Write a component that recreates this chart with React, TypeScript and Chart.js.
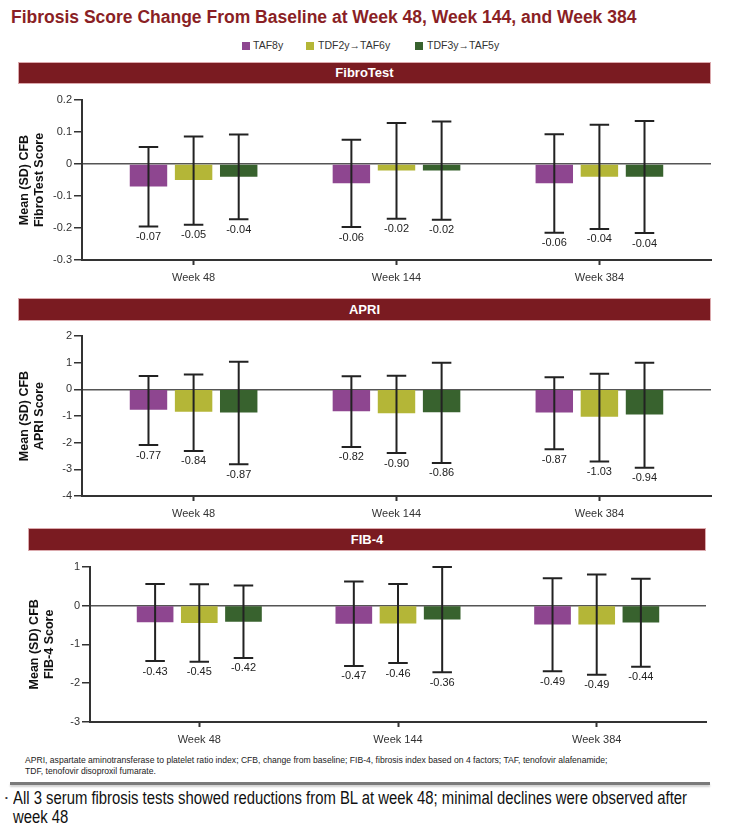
import React, { useEffect, useLayoutEffect, useRef } from 'react';
import { Chart, registerables } from 'chart.js';

Chart.register(...registerables);

const FONT = '"Liberation Sans", Arial, Helvetica, sans-serif';

const weeks = ['Week 48', 'Week 144', 'Week 384'];
const seriesNames = ['TAF8y', 'TDF2y→TAF6y', 'TDF3y→TAF5y'];
const seriesColors = ['#8E4690', '#B4B637', '#38622E'];

// FibroTest: rows = series (TAF8y, TDF2y→TAF6y, TDF3y→TAF5y), columns = weeks
const fibroMeans = [[-0.07, -0.06, -0.06], [-0.05, -0.02, -0.04], [-0.04, -0.02, -0.04]];
const fibroUpper = [[0.053, 0.076, 0.093], [0.086, 0.128, 0.123], [0.092, 0.133, 0.134]];
const fibroLower = [[-0.195, -0.197, -0.215], [-0.19, -0.171, -0.203], [-0.173, -0.174, -0.216]];
const fibroTicks = [0.2, 0.1, 0, -0.1, -0.2, -0.3];

// APRI
const apriMeans = [[-0.77, -0.82, -0.87], [-0.84, -0.9, -1.03], [-0.87, -0.86, -0.94]];
const apriUpper = [[0.5, 0.49, 0.45], [0.56, 0.51, 0.585], [1.03, 1.0, 1.0]];
const apriLower = [[-2.09, -2.16, -2.25], [-2.31, -2.39, -2.71], [-2.81, -2.76, -2.94]];
const apriTicks = [2, 1, 0, -1, -2, -3, -4];

// FIB-4
const fib4Means = [[-0.43, -0.47, -0.49], [-0.45, -0.46, -0.49], [-0.42, -0.36, -0.44]];
const fib4Upper = [[0.556, 0.618, 0.7], [0.55, 0.556, 0.8], [0.515, 0.994, 0.69]];
const fib4Lower = [[-1.43, -1.555, -1.69], [-1.45, -1.48, -1.78], [-1.35, -1.72, -1.58]];
const fib4Ticks = [1, 0, -1, -2, -3];

type PanelProps = {
  top: number;
  height: number;
  plotLeft: number;
  plotRight: number;
  plotTop: number;
  plotBottom: number;
  means: number[][];
  upper: number[][];
  lower: number[][];
  yTicks: number[];
  yTitle: string[];
  titleBaselines: number[];
};

function Panel(p: PanelProps) {
  const ref = useRef<HTMLCanvasElement>(null);
  useEffect(() => {
    if (!ref.current) return;
    const errPlugin = {
      id: 'errBars',
      afterDatasetsDraw(chart: any) {
        const ctx = chart.ctx;
        const ys = chart.scales.y;
        ctx.save();
        p.means.forEach((row, s) => {
          const meta = chart.getDatasetMeta(s);
          meta.data.forEach((el: any, i: number) => {
            const x = el.x;
            const yh = ys.getPixelForValue(p.upper[s][i]);
            const yl = ys.getPixelForValue(p.lower[s][i]);
            ctx.strokeStyle = '#222';
            ctx.lineWidth = 2;
            ctx.beginPath();
            ctx.moveTo(x, yh);
            ctx.lineTo(x, yl);
            ctx.moveTo(x - 9.75, yh);
            ctx.lineTo(x + 9.75, yh);
            ctx.moveTo(x - 9.75, yl);
            ctx.lineTo(x + 9.75, yl);
            ctx.stroke();
            ctx.fillStyle = '#222';
            ctx.font = `11px ${FONT}`;
            ctx.textAlign = 'center';
            ctx.textBaseline = 'top';
            ctx.fillText(row[i].toFixed(2), x, yl + 5);
          });
        });
        ctx.restore();
        // y-axis title
        const ca = chart.chartArea;
        const cy = (ca.top + ca.bottom) / 2;
        ctx.save();
        ctx.translate(0, cy);
        ctx.rotate(-Math.PI / 2);
        ctx.font = `bold 12.5px ${FONT}`;
        ctx.fillStyle = '#111';
        ctx.textAlign = 'center';
        ctx.textBaseline = 'alphabetic';
        p.yTitle.forEach((line, k) => ctx.fillText(line, 0, p.titleBaselines[k]));
        ctx.restore();
      },
    };

    const chart = new Chart(ref.current, {
      type: 'bar',
      data: {
        datasets: seriesNames.map((name, s) => ({
          label: name,
          data: p.means[s].map((v, i) => ({ x: i, y: v })),
          backgroundColor: seriesColors[s],
          borderWidth: 0,
          categoryPercentage: 0.667,
          barPercentage: 0.83,
        })),
      },
      options: {
        animation: false,
        responsive: false,
        devicePixelRatio: 1,
        layout: {
          padding: { left: 0, right: 753 - p.plotRight, top: p.plotTop - p.top, bottom: 0 },
        },
        plugins: { legend: { display: false }, tooltip: { enabled: false } },
        scales: {
          x: {
            type: 'linear',
            offset: false,
            min: -0.55,
            max: 2.55,
            afterBuildTicks: (a: any) => {
              a.ticks = weeks.map((_, i) => ({ value: i }));
            },
            afterFit: (a: any) => {
              a.height = p.top + p.height - p.plotBottom;
            },
            ticks: {
              callback: (v: any) => weeks[Number(v)] ?? '',
              font: { size: 11, family: FONT },
              color: '#333',
              padding: 6,
              maxRotation: 0,
              autoSkip: false,
            },
            grid: { offset: false, drawOnChartArea: false, drawTicks: true, tickLength: 5, tickColor: '#333', tickWidth: 2 },
            border: { display: true, color: '#333', width: 2 },
          },
          y: {
            type: 'linear',
            min: p.yTicks[p.yTicks.length - 1],
            max: p.yTicks[0],
            afterBuildTicks: (a: any) => {
              a.ticks = p.yTicks.map((v) => ({ value: v }));
            },
            afterFit: (a: any) => {
              a.width = p.plotLeft;
            },
            ticks: {
              callback: (v: any) => String(Math.round(Number(v) * 100) / 100),
              font: { size: 11, family: FONT },
              color: '#333',
              padding: 2,
            },
            grid: {
              drawOnChartArea: true,
              drawTicks: true,
              color: (c: any) => (c.tick && c.tick.value === 0 ? '#555' : 'rgba(0,0,0,0)'),
              lineWidth: 1.5,
              tickLength: 8,
              tickColor: '#333',
              tickWidth: 1.5,
            },
            border: { display: true, color: '#333', width: 2 },
          },
        },
      } as any,
      plugins: [errPlugin],
    });
    return () => chart.destroy();
  }, []);
  return (
    <canvas
      ref={ref}
      width={753}
      height={p.height}
      style={{ position: 'absolute', left: 0, top: p.top, width: 753, height: p.height }}
    />
  );
}

function Header({ text, left, top, width, height }: { text: string; left: number; top: number; width: number; height: number }) {
  return (
    <div
      style={{
        position: 'absolute',
        left,
        top,
        width,
        height,
        boxSizing: 'border-box',
        background: '#7A1B21',
        border: '1px solid #dba9ad',
        color: '#fff',
        fontWeight: 'bold',
        fontSize: 13,
        lineHeight: `${height - 2}px`,
        textAlign: 'center',
      }}
    >
      {text}
    </div>
  );
}

const legendPos = [
  { sq: 242, tx: 253 },
  { sq: 306, tx: 318 },
  { sq: 415, tx: 427 },
];

function NarrowLines({ lines, left, top, fontSize, lineGap, target }: { lines: string[]; left: number; top: number; fontSize: number; lineGap: number; target: number }) {
  const refs = useRef<(HTMLSpanElement | null)[]>([]);
  useLayoutEffect(() => {
    const first = refs.current[0];
    if (!first) return;
    const w = first.getBoundingClientRect().width;
    const sc = w > 0 ? target / w : 1;
    refs.current.forEach((r) => {
      if (r) r.style.transform = `scaleX(${sc})`;
    });
  }, []);
  return (
    <>
      {lines.map((l, i) => (
        <span
          key={i}
          ref={(el) => {
            refs.current[i] = el;
          }}
          style={{
            position: 'absolute',
            left,
            top: top + i * lineGap,
            fontSize,
            lineHeight: `${fontSize}px`,
            whiteSpace: 'nowrap',
            transformOrigin: 'left top',
            color: '#111',
          }}
        >
          {l}
        </span>
      ))}
    </>
  );
}

export default function App() {
  return (
    <div
      style={{
        position: 'absolute',
        left: 0,
        top: 0,
        width: 753,
        height: 838,
        overflow: 'hidden',
        background: '#fff',
        fontFamily: FONT,
      }}
    >
      <div
        style={{
          position: 'absolute',
          left: 11,
          top: 9.2,
          fontSize: 17.5,
          lineHeight: '17.5px',
          fontWeight: 'bold',
          color: '#8A1F25',
          whiteSpace: 'nowrap',
        }}
      >
        Fibrosis Score Change From Baseline at Week 48, Week 144, and Week 384
      </div>

      {seriesNames.map((n, i) => (
        <React.Fragment key={n}>
          <div
            style={{
              position: 'absolute',
              left: legendPos[i].sq,
              top: 41.5,
              width: 8,
              height: 8,
              background: seriesColors[i],
            }}
          />
          <div
            style={{
              position: 'absolute',
              left: legendPos[i].tx,
              top: 40.2,
              fontSize: 10.5,
              lineHeight: '10.5px',
              color: '#333',
              whiteSpace: 'nowrap',
            }}
          >
            {n}
          </div>
        </React.Fragment>
      ))}

      <Header text="FibroTest" left={18} top={61.5} width={693} height={22} />
      <Panel
        top={88}
        height={205}
        plotLeft={82}
        plotRight={711}
        plotTop={100}
        plotBottom={260}
        means={fibroMeans}
        upper={fibroUpper}
        lower={fibroLower}
        yTicks={fibroTicks}
        yTitle={['Mean (SD) CFB', 'FibroTest Score']}
        titleBaselines={[28.3, 42.7]}
      />

      <Header text="APRI" left={18} top={298} width={693} height={23} />
      <Panel
        top={324}
        height={200}
        plotLeft={82}
        plotRight={711}
        plotTop={336}
        plotBottom={496}
        means={apriMeans}
        upper={apriUpper}
        lower={apriLower}
        yTicks={apriTicks}
        yTitle={['Mean (SD) CFB', 'APRI Score']}
        titleBaselines={[28.3, 42.7]}
      />

      <Header text="FIB-4" left={28} top={528} width={678} height={23} />
      <Panel
        top={555}
        height={195}
        plotLeft={90}
        plotRight={706}
        plotTop={566.7}
        plotBottom={722}
        means={fib4Means}
        upper={fib4Upper}
        lower={fib4Lower}
        yTicks={fib4Ticks}
        yTitle={['Mean (SD) CFB', 'FIB-4 Score']}
        titleBaselines={[37.7, 52.7]}
      />

      <div
        style={{
          position: 'absolute',
          left: 25,
          top: 755,
          fontSize: 8.6,
          lineHeight: '10.5px',
          color: '#222',
          whiteSpace: 'nowrap',
        }}
      >
        APRI, aspartate aminotransferase to platelet ratio index; CFB, change from baseline; FIB-4, fibrosis index based on 4 factors; TAF, tenofovir alafenamide;
        <br />
        TDF, tenofovir disoproxil fumarate.
      </div>

      <div
        style={{
          position: 'absolute',
          left: 10,
          top: 782,
          width: 700,
          height: 3,
          background: '#7a7a7a',
          boxShadow: '0 2px 2px #d0d0d0',
        }}
      />

      <div style={{ position: 'absolute', left: 5, top: 794, fontSize: 8, lineHeight: '8px', color: '#333' }}>•</div>
      <NarrowLines
        lines={[
          'All 3 serum fibrosis tests showed reductions from BL at week 48; minimal declines were observed after',
          'week 48',
        ]}
        left={13}
        top={789.5}
        fontSize={17.6}
        lineGap={19.7}
        target={674}
      />
    </div>
  );
}
